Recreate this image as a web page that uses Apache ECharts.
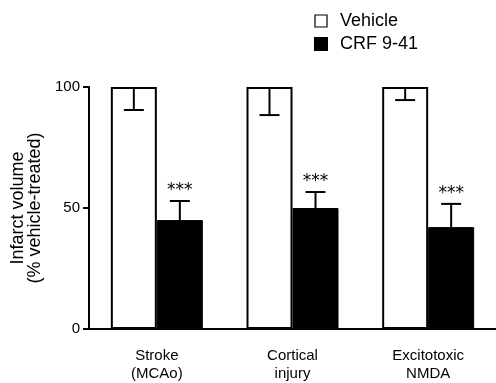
<!DOCTYPE html>
<html><head><meta charset="utf-8">
<script src="https://cdn.jsdelivr.net/npm/echarts@6/dist/echarts.min.js"></script>
<style>html,body{margin:0;padding:0;background:#fff}#c{width:496px;height:383px}</style>
</head><body><div id="c"></div>
<script>
const categories = ['Stroke\n(MCAo)', 'Cortical\ninjury', 'Excitotoxic\nNMDA'];
const vehicle = [100, 100, 100];
const vehicleErr = [9.5, 11.6, 5.4];
const crf = [45, 50, 42.1];
const crfErr = [7.9, 6.6, 9.6];
const sig = ['***', '***', '***'];
const yTicks = [0, 50, 100];

const FONT = 'Liberation Sans, Arial, sans-serif';
const BAR_W = 46;
const chart = echarts.init(document.getElementById('c'));

function errRender(vals, errs, side, dir, labels) {
  return function (params, api) {
    const i = api.value(0);
    const top = api.coord([i, vals[i]]);
    const end = api.coord([i, vals[i] + dir * errs[i]]);
    const x = top[0] + side * BAR_W / 2;
    const children = [
      { type: 'line', shape: { x1: x, y1: top[1], x2: x, y2: end[1] }, style: { stroke: '#000', lineWidth: 2 } },
      { type: 'line', shape: { x1: x - 10, y1: end[1], x2: x + 10, y2: end[1] }, style: { stroke: '#000', lineWidth: 2 } }
    ];
    if (labels) {
      children.push({ type: 'text', x: x, y: end[1] - 2, style: { text: labels[i], fill: '#000', font: '17px DejaVu Sans', align: 'center', verticalAlign: 'bottom' } });
    }
    return { type: 'group', children: children };
  };
}

chart.setOption({
  animation: false,
  legend: {
    orient: 'vertical', left: 309, top: 7, itemWidth: 12, itemHeight: 12, itemGap: 5,
    textStyle: { fontFamily: FONT, fontSize: 18, lineHeight: 12, color: '#000', padding: [0, 0, 0, 8] },
    data: [
      { name: 'Vehicle', icon: 'rect', itemStyle: { color: '#fff', borderColor: '#000', borderWidth: 1.2 } },
      { name: 'CRF 9-41', icon: 'rect', itemStyle: { color: '#000' } }
    ]
  },
  grid: { left: 89, top: 87, bottom: 54, width: 412 },
  xAxis: {
    type: 'category', data: categories,
    axisLine: { lineStyle: { color: '#000', width: 2 } },
    axisTick: { show: false },
    axisLabel: { color: '#000', fontFamily: FONT, fontSize: 15, lineHeight: 18, margin: 18 }
  },
  yAxis: {
    type: 'value', min: 0, max: 100, interval: 50,
    name: 'Infarct volume\n(% vehicle-treated)', nameLocation: 'middle', nameGap: 39,
    nameTextStyle: { color: '#000', fontFamily: FONT, fontSize: 18, lineHeight: 17 },
    axisLine: { show: true, lineStyle: { color: '#000', width: 2 } },
    axisTick: { show: true, length: 6, lineStyle: { color: '#000', width: 2 } },
    axisLabel: { color: '#000', fontFamily: FONT, fontSize: 15, margin: 9,
      formatter: v => yTicks.includes(v) ? String(v) : '' },
    splitLine: { show: false }
  },
  series: [
    { name: 'Vehicle', type: 'bar', data: vehicle, barWidth: BAR_W, barGap: '0%',
      itemStyle: { color: '#fff', borderColor: '#000', borderWidth: 2 } },
    { name: 'CRF 9-41', type: 'bar', data: crf, barWidth: BAR_W, barGap: '0%',
      itemStyle: { color: '#000', borderColor: '#000', borderWidth: 1 } },
    { type: 'custom', data: categories.map((c, i) => [i]), z: 10,
      renderItem: errRender(vehicle, vehicleErr, -1, -1, null) },
    { type: 'custom', data: categories.map((c, i) => [i]), z: 10,
      renderItem: errRender(crf, crfErr, 1, 1, sig) }
  ]
});
</script></body></html>
